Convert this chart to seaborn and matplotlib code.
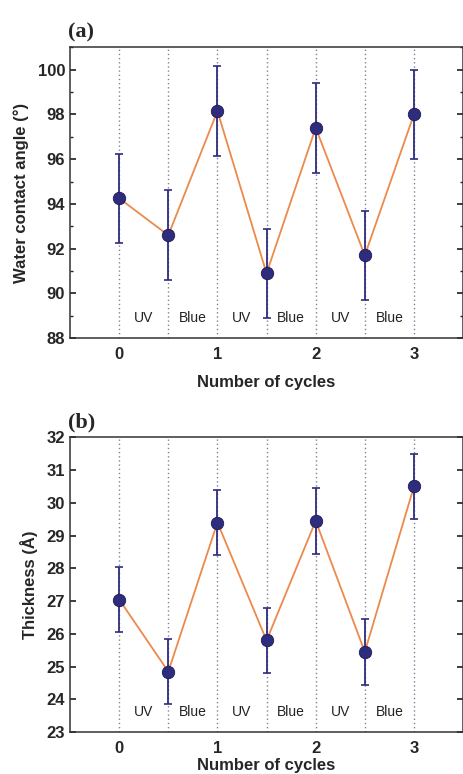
import numpy as np
import pandas as pd
import seaborn as sns
from matplotlib import pyplot as plt
from matplotlib.ticker import MultipleLocator

# data
cycles = [0, 0.5, 1, 1.5, 2, 2.5, 3]
angle = [94.25, 92.6, 98.15, 90.9, 97.4, 91.7, 98.0]
angle_err = [2.0, 2.0, 2.0, 2.0, 2.0, 2.0, 2.0]
thick = [27.05, 24.85, 29.4, 25.8, 29.45, 25.45, 30.5]
thick_err = [1.0, 1.0, 1.0, 1.0, 1.0, 1.0, 1.0]
steps = ["UV", "Blue", "UV", "Blue", "UV", "Blue"]
step_pos = [0.25, 0.75, 1.25, 1.75, 2.25, 2.75]

sns.set_theme(style="ticks")
plt.rcParams['font.family'] = ['Liberation Sans', 'DejaVu Sans']

line_col = "#ec8a4c"
dot_col = "#2e2c7c"

fig = plt.figure(figsize=(4.64, 7.74), dpi=100)
ax1 = fig.add_axes([0.151, 0.563, 0.847, 0.376])
ax2 = fig.add_axes([0.151, 0.054, 0.847, 0.381])


def draw_panel(ax, y, yerr, ylim, major, minor, ylabel, tag):
    df = pd.DataFrame({"x": cycles, "y": y})
    for c in cycles:
        ax.axvline(c, color="#7f8299", ls=(0, (1, 2)), lw=1.0, zorder=0)
    sns.lineplot(data=df, x="x", y="y", ax=ax, color=line_col, lw=1.3, zorder=2)
    ax.errorbar(cycles, y, yerr=yerr, fmt="none", ecolor=dot_col, elinewidth=1.3,
                capsize=3, capthick=1.2, zorder=3)
    sns.scatterplot(data=df, x="x", y="y", ax=ax, color=dot_col, s=80,
                    edgecolor="#1c1a55", linewidth=0.6, zorder=4)
    for p, s in zip(step_pos, steps):
        ax.text(p, 0.045, s, transform=ax.get_xaxis_transform(), ha="center",
                va="bottom", fontsize=10, color="#222222")
    ax.set_xlim(-0.5, 3.5)
    ax.set_ylim(*ylim)
    ax.set_xticks([0, 1, 2, 3])
    ax.yaxis.set_major_locator(MultipleLocator(major))
    if minor:
        ax.yaxis.set_minor_locator(MultipleLocator(minor))
    ax.tick_params(axis="y", which="both", direction="in", right=True, labelsize=12)
    ax.tick_params(axis="y", which="major", length=4)
    ax.tick_params(axis="y", which="minor", length=2.5)
    ax.tick_params(axis="x", direction="in", length=0, labelsize=12, pad=6)
    for lab in ax.get_xticklabels() + ax.get_yticklabels():
        lab.set_fontweight("bold")
    for sp in ax.spines.values():
        sp.set_linewidth(1.1)
        sp.set_color("#333333")
    ax.set_xlabel("Number of cycles", fontsize=12, fontweight="bold", labelpad=10)
    ax.set_ylabel(ylabel, fontsize=12, fontweight="bold", labelpad=6)
    ax.text(-0.005, 1.015, tag, transform=ax.transAxes, ha="left", va="bottom",
            fontsize=16, fontweight="bold", family="Liberation Serif")


draw_panel(ax1, angle, angle_err, (88, 101), 2, 1, "Water contact angle (°)", "(a)")
draw_panel(ax2, thick, thick_err, (23, 32), 1, None, "Thickness (Å)", "(b)")
ax2.xaxis.labelpad = 2

fig.savefig("out.png", dpi=100)
